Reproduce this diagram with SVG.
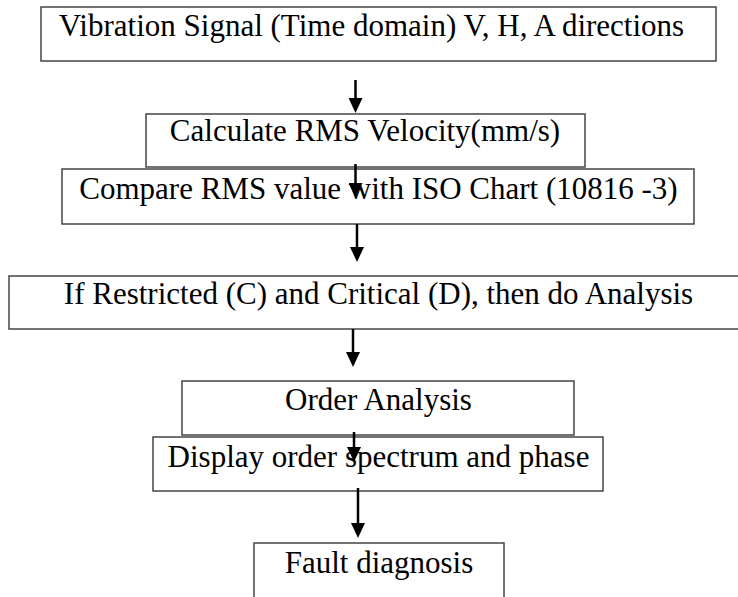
<svg xmlns="http://www.w3.org/2000/svg" width="738" height="597" viewBox="0 0 738 597">
<defs>
<marker id="ah" markerWidth="15" markerHeight="14" refX="7" refY="7" orient="auto" markerUnits="userSpaceOnUse" viewBox="0 0 15 14">
<path d="M0,0 L15,7 L0,14 Z" fill="#000"/>
</marker>
</defs>
<style>
.box{fill:#fff;stroke:#444;stroke-width:1.5}
.t{font-family:"Liberation Serif","Times New Roman",serif;font-size:31px;fill:#000;text-anchor:middle}
.c{stroke:#000;stroke-width:2.5;fill:none}
</style>
<rect width="738" height="597" fill="#fff"/>
<g id="n1"><rect class="box" x="41" y="7" width="675" height="54"/><text class="t" x="371.5" y="36">Vibration Signal (Time domain) V, H, A directions</text></g>
<g id="n2"><rect class="box" x="146" y="114" width="439" height="53"/><text class="t" x="365" y="141">Calculate RMS Velocity(mm/s)</text></g>
<g id="n3"><rect class="box" x="62" y="169" width="632" height="55"/><text class="t" x="378.5" y="199">Compare RMS value with ISO Chart (10816 -3)</text></g>
<g id="n4"><rect class="box" x="9" y="276" width="740" height="53"/><text class="t" x="378.5" y="304">If Restricted (C) and Critical (D), then do Analysis</text></g>
<g id="n5"><rect class="box" x="182" y="381" width="392" height="54"/><text class="t" x="378.5" y="410">Order Analysis</text></g>
<g id="n6"><rect class="box" x="153" y="437" width="450" height="54"/><text class="t" x="378.5" y="467">Display order spectrum and phase</text></g>
<g id="n7"><rect class="box" x="254" y="543" width="250" height="70"/><text class="t" x="379" y="573">Fault diagnosis</text></g>
<g id="connectors">
<line class="c" x1="355.5" y1="80" x2="355.5" y2="105" marker-end="url(#ah)"/>
<line class="c" x1="355.5" y1="164" x2="355.5" y2="190" marker-end="url(#ah)"/>
<line class="c" x1="357" y1="224" x2="357" y2="254" marker-end="url(#ah)"/>
<line class="c" x1="353" y1="329" x2="353" y2="359" marker-end="url(#ah)"/>
<line class="c" x1="354" y1="432" x2="354" y2="454" marker-end="url(#ah)"/>
<line class="c" x1="358" y1="488" x2="358" y2="530" marker-end="url(#ah)"/>
</g>
</svg>
